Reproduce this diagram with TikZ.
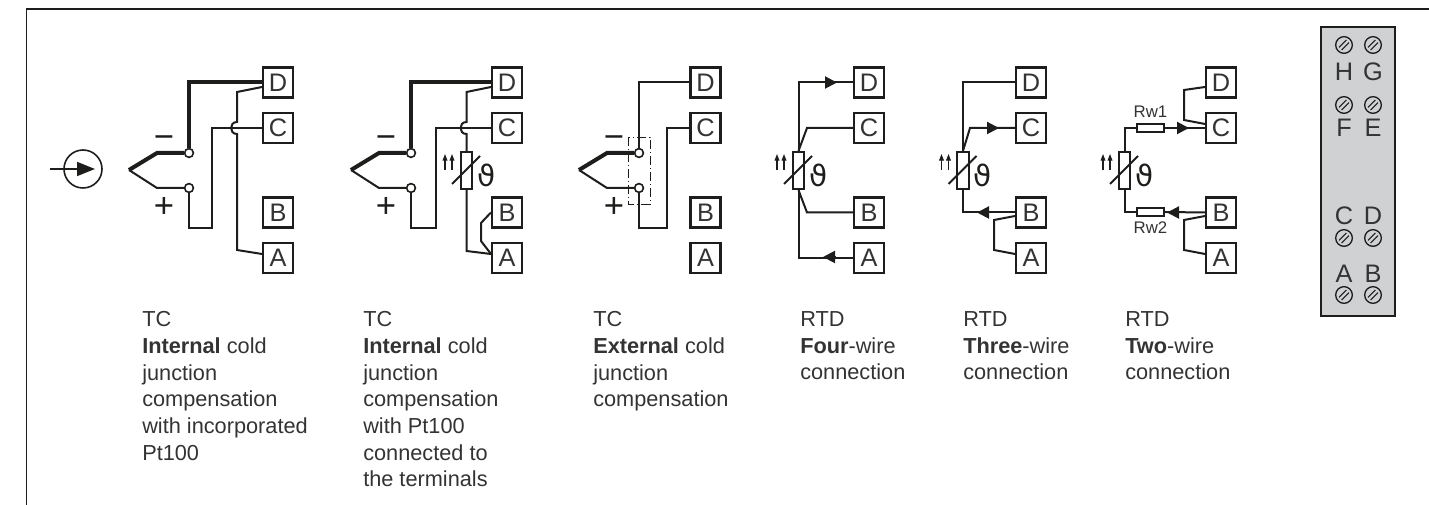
\documentclass[tikz,border=0pt]{standalone}
\usepackage{fontspec}
\setmainfont{Liberation Sans}
\newfontfamily\thetafont{DejaVu Sans}
\usetikzlibrary{arrows.meta}
\definecolor{ink}{HTML}{1D1D1B}
\definecolor{txt}{HTML}{333333}
\definecolor{panel}{HTML}{D0D1D3}
\tikzset{
  x=0.75pt,y=-0.75pt,
  wire/.style={draw=ink,line width=1.5pt,line join=miter},
  thickwire/.style={draw=ink,line width=3pt,line join=miter},
  termbox/.style={draw=ink,line width=1.6pt,fill=white,minimum size=22.5pt,inner sep=0pt,text=txt,font=\fontsize{19}{20}\selectfont},
  pin/.style={circle,draw=ink,line width=1.2pt,fill=white,minimum size=6.6pt,inner sep=0pt},
  sensor/.style={draw=ink,line width=1.5pt,fill=white,minimum width=8.6pt,minimum height=28pt,inner sep=0pt},
  rwire/.style={draw=ink,line width=1.5pt,fill=white,minimum width=20.5pt,minimum height=6.5pt,inner sep=0pt},
  tipline/.style={draw=ink,line width=1.5pt,-{Triangle[length=9pt,width=9pt]}},
  smallarrow/.style={draw=ink,line width=0.8pt,-{Triangle[length=5pt,width=3.6pt]}},
  capt/.style={anchor=north west,align=left,inner sep=0pt,text=txt,font=\fontsize{16.3}{20}\selectfont},
  sign/.style={inner sep=0pt,text=ink,font=\fontsize{26}{26}\selectfont},
  rwlabel/.style={inner sep=0pt,text=txt,font=\fontsize{12.6}{14}\selectfont},
  letter/.style={inner sep=0pt,text=txt,font=\fontsize{19}{20}\selectfont},
  screw/.style={circle,draw=ink,line width=1pt,minimum size=12.5pt,inner sep=0pt},
  cjbox/.style={draw=ink,line width=0.7pt,dash pattern=on 7pt off 2pt on 1pt off 2pt},
}
\newcommand{\Boxes}[2]{%
  \node[termbox] (D#1) at (#2,82.5) {D};
  \node[termbox] (C#1) at (#2,128) {C};
  \node[termbox] (B#1) at (#2,212.5) {B};
  \node[termbox] (A#1) at (#2,258) {A};
  \coordinate (Du#1) at (#2-16,87);
  \coordinate (Cu#1) at (#2-16,124);
  \coordinate (Bl#1) at (#2-16,216);
  \coordinate (Al#1) at (#2-16,254);
}
\newcommand{\Couple}[2]{%
  \coordinate (tip#1) at (#2,170);
  \coordinate (ku#1) at (#2+28,153);
  \coordinate (kl#1) at (#2+28,188);
  \node[pin] (pu#1) at (#2+60,153) {};
  \node[pin] (pl#1) at (#2+60,188) {};
  \draw[thickwire] (tip#1) -- (ku#1) -- (pu#1);
  \draw[wire] (tip#1) -- (kl#1) -- (pl#1);
  \node[sign] (minus#1) at (#2+35,142) {−};
  \node[sign] (plus#1) at (#2+35,208) {+};
}
\newcommand{\Sensor}[2]{%
  \node[sensor] (R#1) at (#2,170.5) {};
  \coordinate (sa#1) at (#2-14.5,184);
  \coordinate (sb#1) at (#2+13.5,156);
  \draw[draw=ink,line width=1.5pt] (sa#1) -- (sb#1);
  \node[inner sep=0pt,text=ink,font=\thetafont\fontsize{22}{22}\selectfont] (th#1) at (#2+20,175) {ϑ};
  \coordinate (aa#1) at (#2-21.5,170);
  \coordinate (ab#1) at (#2-21.5,154);
  \coordinate (ac#1) at (#2-14.5,170);
  \coordinate (ad#1) at (#2-14.5,154);
  \draw[smallarrow] (aa#1) -- (ab#1);
  \draw[smallarrow] (ac#1) -- (ad#1);
}
\newcommand{\Screw}[3]{%
  \node[screw] (#1) at (#2,#3) {};
  \draw[draw=ink,line width=0.8pt] ([xshift=-3.7pt,yshift=-1.8pt]#1.center) -- ([xshift=1.8pt,yshift=3.7pt]#1.center);
  \draw[draw=ink,line width=0.8pt] ([xshift=-1.8pt,yshift=-3.7pt]#1.center) -- ([xshift=3.7pt,yshift=1.8pt]#1.center);
}
\begin{document}
\begin{tikzpicture}
\useasboundingbox (0,0) rectangle (1429,505);
% frame
\coordinate (fa) at (26.5,505);
\coordinate (fb) at (26.5,9);
\coordinate (fc) at (1429,9);
\draw[draw=ink,line width=1.1pt] (fa) -- (fb) -- (fc);
% input symbol
\node[circle,draw=ink,line width=1.2pt,minimum size=28.5pt,inner sep=0pt] (src) at (83,169) {};
\coordinate (srcin) at (50,169);
\coordinate (srcout) at (95,169);
\draw[draw=ink,line width=1.2pt,-{Triangle[length=13.5pt,width=10.5pt]}] (srcin) -- (srcout);
%
% Panel 1
\Boxes{1}{278}
\Couple{1}{129}
\coordinate (a1) at (237,92);
\coordinate (b1) at (237,122);
\coordinate (c1) at (237,134);
\coordinate (d1) at (237,250);
\draw[thickwire] (pu1) |- (D1.west);
\draw[wire] (pl1) |- (212,228) |- (C1.west);
\draw[wire] (Du1) -- (a1) -- (b1) .. controls (229,122) and (229,134) .. (c1) -- (d1) -- (Al1);
%
% Panel 2
\Boxes{2}{507}
\Couple{2}{351}
\Sensor{2}{466.5}
\coordinate (a2) at (466.5,92);
\coordinate (b2) at (466.5,122);
\coordinate (c2) at (466.5,134);
\coordinate (d2) at (466.5,251);
\coordinate (e2) at (481,223);
\coordinate (f2) at (481,241);
\draw[thickwire] (pu2) |- (D2.west);
\draw[wire] (pl2) |- (436,228) |- (C2.west);
\draw[wire] (Du2) -- (a2) -- (b2) .. controls (458.5,122) and (458.5,134) .. (c2) -- (R2.north);
\draw[wire] (R2.south) -- (d2) -- (Al2);
\draw[wire] (B2.west) -- (e2) -- (f2) -- (Al2);
%
% Panel 3
\Boxes{3}{705.5}
\Couple{3}{579}
\draw[cjbox] (628,137) rectangle (650,204);
\draw[wire] (pu3) |- (D3.west);
\draw[wire] (pl3) |- (667,228) |- (C3.west);
%
% Panel 4
\Boxes{4}{869}
\Sensor{4}{798.5}
\coordinate (c4) at (807,128);
\coordinate (b4) at (807,212.5);
\coordinate (a4t) at (837,82.5);
\coordinate (a4b) at (823,257);
\coordinate (a4s) at (836,257);
\coordinate (a4r) at (825,82.5);
\draw[wire] (R4.north) |- (D4.west);
\draw[wire] (R4.north) -- (c4) -- (C4.west);
\draw[wire] (R4.south) -- (b4) -- (B4.west);
\draw[wire] (R4.south) |- (A4.west);
\draw[tipline] (a4r) -- (a4t);
\draw[tipline] (a4s) -- (a4b);
%
% Panel 5
\Boxes{5}{1031}
\Sensor{5}{963}
\coordinate (c5) at (970,128);
\coordinate (a5) at (994,220);
\coordinate (b5) at (994,250);
\coordinate (t5a) at (987,128);
\coordinate (t5b) at (999,128);
\coordinate (t5c) at (990,212.5);
\coordinate (t5d) at (977,212.5);
\draw[wire] (R5.north) |- (D5.west);
\draw[wire] (R5.north) -- (c5) -- (C5.west);
\draw[wire] (R5.south) |- (B5.west);
\draw[wire] (Bl5) -- (a5) -- (b5) -- (Al5);
\draw[tipline] (t5a) -- (t5b);
\draw[tipline] (t5c) -- (t5d);
%
% Panel 6
\Boxes{6}{1221}
\Sensor{6}{1124.5}
\node[rwire] (rw1) at (1150.5,128) {};
\node[rwire] (rw2) at (1150.5,212) {};
\node[rwlabel] (rw1l) at (1150.5,112) {Rw1};
\node[rwlabel] (rw2l) at (1150.5,228) {Rw2};
\coordinate (p6a) at (1184,90);
\coordinate (p6b) at (1184,120);
\coordinate (p6c) at (1184,220);
\coordinate (p6d) at (1184,250);
\coordinate (t6a) at (1177,128);
\coordinate (t6b) at (1189,128);
\coordinate (t6c) at (1179,212.5);
\coordinate (t6d) at (1167,212.5);
\draw[wire] (R6.north) |- (rw1.west);
\draw[wire] (R6.south) |- (rw2.west);
\draw[wire] (rw1.east) -- (C6.west);
\draw[wire] (rw2.east) -- (B6.west);
\draw[wire] (Du6) -- (p6a) -- (p6b) -- (Cu6);
\draw[wire] (Bl6) -- (p6c) -- (p6d) -- (Al6);
\draw[tipline] (t6a) -- (t6b);
\draw[tipline] (t6c) -- (t6d);
%
% Captions
\node[capt] (cap1) at (142,311.4) {TC\\\textbf{Internal} cold\\junction\\compensation\\with incorporated\\Pt100};
\node[capt] (cap2) at (363,311.4) {TC\\\textbf{Internal} cold\\junction\\compensation\\with Pt100\\connected to\\the terminals};
\node[capt] (cap3) at (593,311.4) {TC\\\textbf{External} cold\\junction\\compensation};
\node[capt] (cap4) at (800,311.4) {RTD\\\textbf{Four}-wire\\connection};
\node[capt] (cap5) at (963,311.4) {RTD\\\textbf{Three}-wire\\connection};
\node[capt] (cap6) at (1125,311.4) {RTD\\\textbf{Two}-wire\\connection};
%
% Terminal panel
\node[draw=ink,line width=1.5pt,fill=panel,minimum width=55.5pt,minimum height=217pt,inner sep=0pt] (panel) at (1358,171.5) {};
\Screw{sh}{1344}{45}
\Screw{sg}{1373}{45}
\Screw{sf}{1344}{105}
\Screw{se}{1373}{105}
\Screw{sc}{1344}{238}
\Screw{sd}{1373}{238}
\Screw{sa}{1344}{295}
\Screw{sb}{1373}{295}
\node[letter] (lh) at (1344,72) {H};
\node[letter] (lg) at (1373,72) {G};
\node[letter] (lf) at (1344,128) {F};
\node[letter] (le) at (1373,128) {E};
\node[letter] (lc) at (1344,216) {C};
\node[letter] (ld) at (1373,216) {D};
\node[letter] (la) at (1344,274) {A};
\node[letter] (lb) at (1373,274) {B};
\end{tikzpicture}
\end{document}
